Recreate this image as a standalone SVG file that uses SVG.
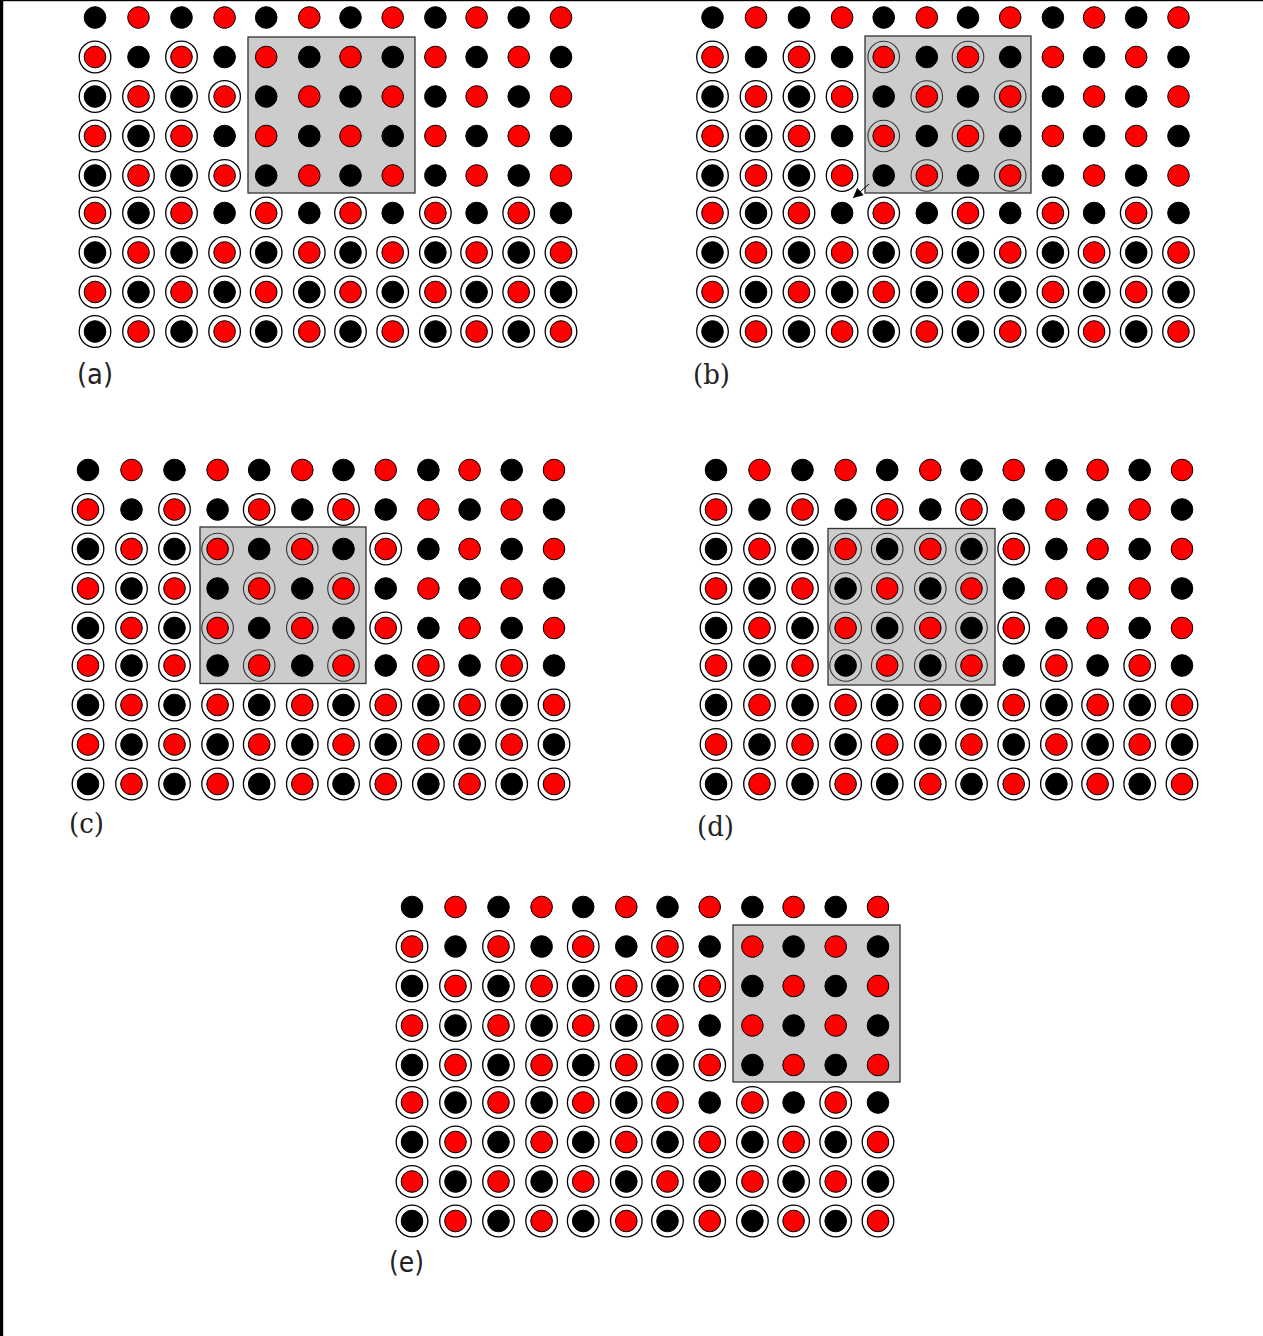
<svg xmlns="http://www.w3.org/2000/svg" width="1263" height="1336" viewBox="0 0 1263 1336">
<style>
.lbl{font-family:"DejaVu Sans","Liberation Sans",sans-serif;font-size:28px;fill:#222;}
.lbls{font-family:"DejaVu Serif","Liberation Serif",serif;font-size:28px;fill:#222;}
.gray{fill:#cccccc;stroke:#333;stroke-width:1.3;}
</style>
<defs>
<circle id="k" r="10.8" fill="#000" stroke="#000" stroke-width="1"/>
<circle id="d" r="10.8" fill="#ff0000" stroke="#000" stroke-width="1"/>
<circle id="ring" r="15.8" fill="#fff" stroke="#000" stroke-width="1.3"/>
<circle id="gring" r="15.8" fill="none" stroke="#333" stroke-width="1.1"/>
<g id="rowA">
<use href="#k" x="0"/><use href="#d" x="43.5"/><use href="#k" x="86.5"/><use href="#d" x="129.6"/><use href="#k" x="171.2"/><use href="#d" x="214.3"/><use href="#k" x="255.5"/><use href="#d" x="297.7"/><use href="#k" x="340.4"/><use href="#d" x="381.6"/><use href="#k" x="423.7"/><use href="#d" x="466"/>
</g>
<g id="rowB">
<use href="#d" x="0"/><use href="#k" x="43.5"/><use href="#d" x="86.5"/><use href="#k" x="129.6"/><use href="#d" x="171.2"/><use href="#k" x="214.3"/><use href="#d" x="255.5"/><use href="#k" x="297.7"/><use href="#d" x="340.4"/><use href="#k" x="381.6"/><use href="#d" x="423.7"/><use href="#k" x="466"/>
</g>
<g id="dots">
<use href="#rowA" y="0"/><use href="#rowB" y="39.5"/><use href="#rowA" y="79"/><use href="#rowB" y="118.5"/><use href="#rowA" y="158"/><use href="#rowB" y="195.5"/><use href="#rowA" y="235"/><use href="#rowB" y="274.5"/><use href="#rowA" y="314"/>
</g>
<g id="ringrow">
<use href="#ring" x="0"/><use href="#ring" x="43.5"/><use href="#ring" x="86.5"/><use href="#ring" x="129.6"/><use href="#ring" x="171.2"/><use href="#ring" x="214.3"/><use href="#ring" x="255.5"/><use href="#ring" x="297.7"/><use href="#ring" x="340.4"/><use href="#ring" x="381.6"/><use href="#ring" x="423.7"/><use href="#ring" x="466"/>
</g>
<g id="bottom3">
<use href="#ringrow" y="235"/><use href="#ringrow" y="274.5"/><use href="#ringrow" y="314"/>
</g>
<marker id="arr" viewBox="0 0 10 10" refX="10" refY="5" markerWidth="13" markerHeight="10" markerUnits="userSpaceOnUse" orient="auto">
<path d="M0,0 L10,5 L0,10 z" fill="#000"/>
</marker>
</defs>

<rect x="0" y="0" width="1263" height="1336" fill="#fff"/>
<g id="frame">
<rect x="0" y="0" width="3.2" height="1336" fill="#000"/>
<rect x="0" y="0" width="1263" height="1.2" fill="#000"/>
</g>

<g id="panel-a" transform="translate(95,17.5)">
<rect class="gray" x="153" y="19.5" width="167" height="156"/>
<use href="#ring" x="0" y="39.5"/><use href="#ring" x="86.5" y="39.5"/>
<use href="#ring" x="0" y="79"/><use href="#ring" x="43.5" y="79"/><use href="#ring" x="86.5" y="79"/><use href="#ring" x="129.6" y="79"/>
<use href="#ring" x="0" y="118.5"/><use href="#ring" x="43.5" y="118.5"/><use href="#ring" x="86.5" y="118.5"/>
<use href="#ring" x="0" y="158"/><use href="#ring" x="43.5" y="158"/><use href="#ring" x="86.5" y="158"/><use href="#ring" x="129.6" y="158"/>
<use href="#ring" x="0" y="195.5"/><use href="#ring" x="43.5" y="195.5"/><use href="#ring" x="86.5" y="195.5"/><use href="#ring" x="171.2" y="195.5"/><use href="#ring" x="255.5" y="195.5"/><use href="#ring" x="340.4" y="195.5"/><use href="#ring" x="423.7" y="195.5"/>
<use href="#bottom3"/>
<use href="#dots"/>
</g>
<text id="label-a" class="lbl" x="77" y="384" textLength="36" lengthAdjust="spacingAndGlyphs">(a)</text>

<g id="panel-b" transform="translate(712.5,17.5)">
<rect class="gray" x="152.5" y="18.5" width="166" height="157"/>
<use href="#ring" x="0" y="39.5"/><use href="#ring" x="86.5" y="39.5"/>
<use href="#gring" x="171.2" y="39.5"/><use href="#gring" x="255.5" y="39.5"/>
<use href="#ring" x="0" y="79"/><use href="#ring" x="43.5" y="79"/><use href="#ring" x="86.5" y="79"/><use href="#ring" x="129.6" y="79"/>
<use href="#gring" x="214.3" y="79"/><use href="#gring" x="297.7" y="79"/>
<use href="#ring" x="0" y="118.5"/><use href="#ring" x="43.5" y="118.5"/><use href="#ring" x="86.5" y="118.5"/>
<use href="#gring" x="171.2" y="118.5"/><use href="#gring" x="255.5" y="118.5"/>
<use href="#ring" x="0" y="158"/><use href="#ring" x="43.5" y="158"/><use href="#ring" x="86.5" y="158"/><use href="#ring" x="129.6" y="158"/>
<use href="#gring" x="214.3" y="158"/><use href="#gring" x="297.7" y="158"/>
<use href="#ring" x="0" y="195.5"/><use href="#ring" x="43.5" y="195.5"/><use href="#ring" x="86.5" y="195.5"/><use href="#ring" x="171.2" y="195.5"/><use href="#ring" x="255.5" y="195.5"/><use href="#ring" x="340.4" y="195.5"/><use href="#ring" x="423.7" y="195.5"/>
<use href="#bottom3"/>
<use href="#dots"/>
</g>
<text id="label-b" class="lbls" x="693" y="384" textLength="37" lengthAdjust="spacingAndGlyphs">(b)</text>

<g id="panel-c" transform="translate(88,470)">
<rect class="gray" x="112" y="57" width="166" height="156.5"/>
<use href="#ring" x="0" y="39.5"/><use href="#ring" x="86.5" y="39.5"/><use href="#ring" x="171.2" y="39.5"/><use href="#ring" x="255.5" y="39.5"/>
<use href="#ring" x="0" y="79"/><use href="#ring" x="43.5" y="79"/><use href="#ring" x="86.5" y="79"/>
<use href="#gring" x="129.6" y="79"/><use href="#gring" x="214.3" y="79"/><use href="#ring" x="297.7" y="79"/>
<use href="#ring" x="0" y="118.5"/><use href="#ring" x="43.5" y="118.5"/><use href="#ring" x="86.5" y="118.5"/>
<use href="#gring" x="171.2" y="118.5"/><use href="#gring" x="255.5" y="118.5"/>
<use href="#ring" x="0" y="158"/><use href="#ring" x="43.5" y="158"/><use href="#ring" x="86.5" y="158"/>
<use href="#gring" x="129.6" y="158"/><use href="#gring" x="214.3" y="158"/><use href="#ring" x="297.7" y="158"/>
<use href="#ring" x="0" y="195.5"/><use href="#ring" x="43.5" y="195.5"/><use href="#ring" x="86.5" y="195.5"/>
<use href="#gring" x="171.2" y="195.5"/><use href="#gring" x="255.5" y="195.5"/><use href="#ring" x="340.4" y="195.5"/><use href="#ring" x="423.7" y="195.5"/>
<use href="#bottom3"/>
<use href="#dots"/>
</g>
<text id="label-c" class="lbls" x="69" y="833" textLength="35" lengthAdjust="spacingAndGlyphs">(c)</text>

<g id="panel-d" transform="translate(716,470)">
<rect class="gray" x="112" y="58.5" width="167" height="156.5"/>
<use href="#ring" x="0" y="39.5"/><use href="#ring" x="86.5" y="39.5"/><use href="#ring" x="171.2" y="39.5"/><use href="#ring" x="255.5" y="39.5"/>
<use href="#ring" x="0" y="79"/><use href="#ring" x="43.5" y="79"/><use href="#ring" x="86.5" y="79"/>
<use href="#gring" x="129.6" y="79"/><use href="#gring" x="171.2" y="79"/><use href="#gring" x="214.3" y="79"/><use href="#gring" x="255.5" y="79"/><use href="#ring" x="297.7" y="79"/>
<use href="#ring" x="0" y="118.5"/><use href="#ring" x="43.5" y="118.5"/><use href="#ring" x="86.5" y="118.5"/>
<use href="#gring" x="129.6" y="118.5"/><use href="#gring" x="171.2" y="118.5"/><use href="#gring" x="214.3" y="118.5"/><use href="#gring" x="255.5" y="118.5"/>
<use href="#ring" x="0" y="158"/><use href="#ring" x="43.5" y="158"/><use href="#ring" x="86.5" y="158"/>
<use href="#gring" x="129.6" y="158"/><use href="#gring" x="171.2" y="158"/><use href="#gring" x="214.3" y="158"/><use href="#gring" x="255.5" y="158"/><use href="#ring" x="297.7" y="158"/>
<use href="#ring" x="0" y="195.5"/><use href="#ring" x="43.5" y="195.5"/><use href="#ring" x="86.5" y="195.5"/>
<use href="#gring" x="129.6" y="195.5"/><use href="#gring" x="171.2" y="195.5"/><use href="#gring" x="214.3" y="195.5"/><use href="#gring" x="255.5" y="195.5"/><use href="#ring" x="340.4" y="195.5"/><use href="#ring" x="423.7" y="195.5"/>
<use href="#bottom3"/>
<use href="#dots"/>
</g>
<text id="label-d" class="lbls" x="697" y="836" textLength="37" lengthAdjust="spacingAndGlyphs">(d)</text>

<g id="panel-e" transform="translate(412,907)">
<rect class="gray" x="321" y="18" width="167" height="157"/>
<use href="#ring" x="0" y="39.5"/><use href="#ring" x="86.5" y="39.5"/><use href="#ring" x="171.2" y="39.5"/><use href="#ring" x="255.5" y="39.5"/>
<use href="#ring" x="0" y="79"/><use href="#ring" x="43.5" y="79"/><use href="#ring" x="86.5" y="79"/><use href="#ring" x="129.6" y="79"/><use href="#ring" x="171.2" y="79"/><use href="#ring" x="214.3" y="79"/><use href="#ring" x="255.5" y="79"/><use href="#ring" x="297.7" y="79"/>
<use href="#ring" x="0" y="118.5"/><use href="#ring" x="43.5" y="118.5"/><use href="#ring" x="86.5" y="118.5"/><use href="#ring" x="129.6" y="118.5"/><use href="#ring" x="171.2" y="118.5"/><use href="#ring" x="214.3" y="118.5"/><use href="#ring" x="255.5" y="118.5"/>
<use href="#ring" x="0" y="158"/><use href="#ring" x="43.5" y="158"/><use href="#ring" x="86.5" y="158"/><use href="#ring" x="129.6" y="158"/><use href="#ring" x="171.2" y="158"/><use href="#ring" x="214.3" y="158"/><use href="#ring" x="255.5" y="158"/><use href="#ring" x="297.7" y="158"/>
<use href="#ring" x="0" y="195.5"/><use href="#ring" x="43.5" y="195.5"/><use href="#ring" x="86.5" y="195.5"/><use href="#ring" x="129.6" y="195.5"/><use href="#ring" x="171.2" y="195.5"/><use href="#ring" x="214.3" y="195.5"/><use href="#ring" x="255.5" y="195.5"/><use href="#ring" x="340.4" y="195.5"/><use href="#ring" x="423.7" y="195.5"/>
<use href="#bottom3"/>
<use href="#dots"/>
</g>
<text id="label-e" class="lbl" x="389" y="1272" textLength="35" lengthAdjust="spacingAndGlyphs">(e)</text>

<g id="connectors">
<line x1="869" y1="184" x2="853" y2="198" stroke="#000" stroke-width="1" marker-end="url(#arr)"/>
</g>
</svg>
